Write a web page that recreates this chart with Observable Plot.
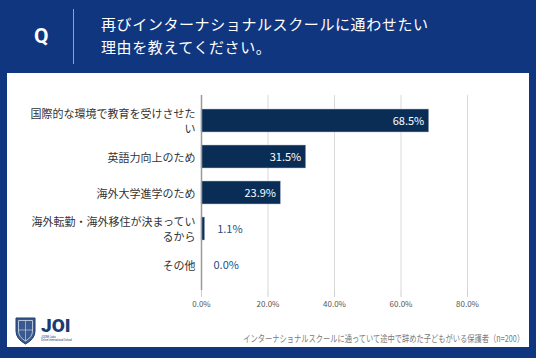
<!DOCTYPE html>
<html><head><meta charset="utf-8">
<script src="https://cdn.jsdelivr.net/npm/d3@7"></script>
<script src="https://cdn.jsdelivr.net/npm/@observablehq/plot@0.6"></script>
<style>
html,body{margin:0;padding:0;}
body{width:536px;height:358px;background:#10367f;position:relative;overflow:hidden;font-family:"Noto Sans CJK JP","Noto Sans",sans-serif;}
#panel{position:absolute;left:7px;top:73px;width:522px;height:274px;background:#fff;}
#q{position:absolute;left:34px;top:24px;color:#fff;font:bold 21px Roboto,"Noto Sans",sans-serif;}
#vline{position:absolute;left:73px;top:9px;width:1px;height:55px;background:#8fa3c8;}
#title{position:absolute;left:101px;top:12px;color:#fff;font-size:15px;line-height:23px;letter-spacing:0.6px;}
#chart{position:absolute;left:0;top:85px;}
#caption{position:absolute;right:12px;top:331px;color:#7a7a7a;font-size:9.5px;white-space:nowrap;transform-origin:right center;}
#logo{position:absolute;left:14px;top:315px;}
</style></head>
<body>
<div id="panel"></div>
<div id="q">Q</div>
<div id="vline"></div>
<div id="title">再びインターナショナルスクールに通わせたい<br>理由を教えてください。</div>
<div id="chart"></div>
<div id="caption">インターナショナルスクールに通っていて途中で辞めた子どもがいる保護者（n=200）</div>
<svg id="logo" width="70" height="32" viewBox="0 0 70 32">
  <path d="M2,3 L21,3 L21,16 Q21,24 11.5,29 Q2,24 2,16 Z" fill="#3a5a8f" stroke="#1c3b73" stroke-width="1"/>
  <path d="M4.5,5.5 L18.5,5.5 L18.5,16 Q18.5,22 11.5,26 Q4.5,22 4.5,16 Z" fill="none" stroke="#d5deec" stroke-width="0.8"/>
  <line x1="11.5" y1="5.5" x2="11.5" y2="26" stroke="#d5deec" stroke-width="0.6"/>
  <line x1="4.5" y1="15" x2="18.5" y2="15" stroke="#d5deec" stroke-width="0.6"/>
  <text x="27" y="16.5" font-family="Roboto, sans-serif" font-weight="900" font-size="19" fill="#1c3b73">JOI</text>
  <text x="27" y="23" font-family="Roboto, sans-serif" font-size="2.6" fill="#1c3b73">JOONE Labo</text>
  <text x="27" y="26" font-family="Roboto, sans-serif" font-size="2.6" fill="#1c3b73">Online International School</text>
</svg>
<script>
const categories = ["国際的な環境で教育を受けさせたい","英語力向上のため","海外大学進学のため","海外転勤・海外移住が決まっているから","その他"];
const values = [68.5, 31.5, 23.9, 1.1, 0.0];
const xTicks = [0, 20, 40, 60, 80];

const data = categories.map((c, i) => ({category: c, value: values[i]}));
const wrap = d => d.length > 15 ? d.slice(0, 15) + "\n" + d.slice(15) : d;
const fmt = v => v.toFixed(1) + "%";

const chart = Plot.plot({
  width: 536,
  height: 230,
  marginLeft: 201,
  marginRight: 69,
  marginTop: 10,
  marginBottom: 25,
  style: {fontFamily: '"Noto Sans CJK JP","Noto Sans",sans-serif', background: "transparent"},
  x: {domain: [0, 80], ticks: xTicks, tickFormat: fmt, label: null},
  y: {domain: categories, padding: 0.35, label: null},
  marks: [
    Plot.gridX(xTicks, {stroke: "#d9d9d9", strokeOpacity: 1}),
    Plot.axisX({ticks: xTicks, tickFormat: fmt, tickSize: 7, stroke: "#d0d0d0", fill: "#555", fontSize: 8, tickPadding: 4}),
    Plot.axisY({tickSize: 0, tickPadding: 6, tickFormat: wrap, fill: "#333", fontSize: 11, lineHeight: 1.3}),
    Plot.barX(data, {x: "value", y: "category", fill: "#0a2d56", stroke: "#b8c4d6", strokeWidth: 0.5}),
    Plot.ruleX([0], {stroke: "#9a9a9a", strokeWidth: 1.5}),
    Plot.text(data.filter(d => d.value >= 5), {x: "value", y: "category", text: d => fmt(d.value), textAnchor: "end", dx: -5, fill: "#fff", fontSize: 11}),
    Plot.text(data.filter(d => d.value < 5), {x: "value", y: "category", text: d => fmt(d.value), textAnchor: "start", dx: 12, fill: "#2b4c7e", fontSize: 11})
  ]
});
document.getElementById("chart").append(chart);

const cap = document.getElementById("caption");
const w = cap.getBoundingClientRect().width;
if (w > 281) cap.style.transform = `scaleX(${281 / w})`;
</script>
</body></html>
